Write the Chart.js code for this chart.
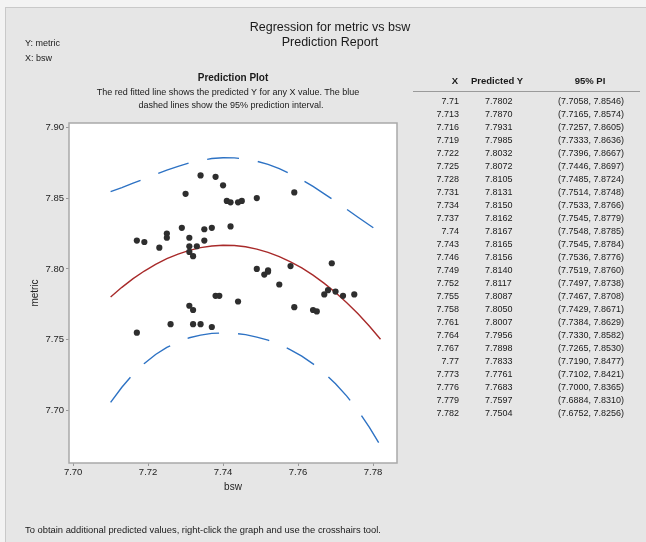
<!DOCTYPE html>
<html>
<head>
<meta charset="utf-8">
<script src="https://cdn.jsdelivr.net/npm/chart.js@4.4.1/dist/chart.umd.min.js"></script>
<style>
  html, body { margin: 0; padding: 0; }
  body { width: 646px; height: 542px; overflow: hidden; background: #f3f3f3; position: relative;
         font-family: "Liberation Sans", Arial, sans-serif; color: #1a1a1a; }
  #frame { position: absolute; left: 5px; top: 7px; width: 641px; height: 535px; background: #e6e6e6;
           border-left: 1px solid #c9c9c9; border-top: 1px solid #c9c9c9; }
  .txt { position: absolute; white-space: nowrap; }
  canvas { position: absolute; left: 0; top: 0; }
  #hline { position: absolute; left: 413px; top: 91px; width: 227px; height: 1px; background: #9a9a9a; }
</style>
</head>
<body>
<div id="frame"></div>
<canvas id="c" width="646" height="542"></canvas>
<div class="txt" style="left:180px;width:300px;text-align:center;top:20px;font-size:12.5px;">Regression for metric vs bsw</div>
<div class="txt" style="left:180px;width:300px;text-align:center;top:35px;font-size:12.5px;">Prediction Report</div>
<div class="txt" style="left:25px;top:38px;font-size:9px;">Y: metric</div>
<div class="txt" style="left:25px;top:53px;font-size:9px;">X: bsw</div>
<div class="txt" style="left:83px;width:300px;text-align:center;top:72px;font-size:10px;font-weight:bold;">Prediction Plot</div>
<div class="txt" style="left:78px;width:300px;text-align:center;top:87px;font-size:9px;">The red fitted line shows the predicted Y for any X value. The blue</div>
<div class="txt" style="left:81px;width:300px;text-align:center;top:100px;font-size:9px;">dashed lines show the 95% prediction interval.</div>
<div class="txt" style="left:25px;top:524px;font-size:9.4px;">To obtain additional predicted values, right-click the graph and use the crosshairs tool.</div>
<div id="hline"></div>
<div id="table"></div>
<script>
// ---- data ----
const tableX = [7.71, 7.713, 7.716, 7.719, 7.722, 7.725, 7.728, 7.731, 7.734, 7.737, 7.74, 7.743,
                7.746, 7.749, 7.752, 7.755, 7.758, 7.761, 7.764, 7.767, 7.77, 7.773, 7.776, 7.779, 7.782];
const predictedY = [7.7802, 7.7870, 7.7931, 7.7985, 7.8032, 7.8072, 7.8105, 7.8131, 7.8150, 7.8162, 7.8167, 7.8165,
                    7.8156, 7.8140, 7.8117, 7.8087, 7.8050, 7.8007, 7.7956, 7.7898, 7.7833, 7.7761, 7.7683, 7.7597, 7.7504];
const piLower = [7.7058, 7.7165, 7.7257, 7.7333, 7.7396, 7.7446, 7.7485, 7.7514, 7.7533, 7.7545, 7.7548, 7.7545,
                 7.7536, 7.7519, 7.7497, 7.7467, 7.7429, 7.7384, 7.7330, 7.7265, 7.7190, 7.7102, 7.7000, 7.6884, 7.6752];
const piUpper = [7.8546, 7.8574, 7.8605, 7.8636, 7.8667, 7.8697, 7.8724, 7.8748, 7.8766, 7.8779, 7.8785, 7.8784,
                 7.8776, 7.8760, 7.8738, 7.8708, 7.8671, 7.8629, 7.8582, 7.8530, 7.8477, 7.8421, 7.8365, 7.8310, 7.8256];

const bswObs = [7.717, 7.719, 7.723, 7.725, 7.725, 7.729, 7.730, 7.731, 7.731, 7.731, 7.732, 7.733, 7.734, 7.735, 7.735,
                7.737, 7.738, 7.740, 7.741, 7.742, 7.742, 7.744, 7.745, 7.749, 7.759,
                7.717, 7.726, 7.731, 7.732, 7.732, 7.734, 7.737, 7.738, 7.739, 7.744, 7.749, 7.751, 7.752, 7.752,
                7.758, 7.769, 7.755, 7.759, 7.764, 7.765, 7.767, 7.768, 7.770, 7.772, 7.775];
const metricObs = [7.820, 7.819, 7.815, 7.825, 7.822, 7.829, 7.853, 7.822, 7.816, 7.812, 7.809, 7.816, 7.866, 7.828, 7.820,
                   7.829, 7.865, 7.859, 7.848, 7.847, 7.830, 7.847, 7.848, 7.850, 7.854,
                   7.755, 7.761, 7.774, 7.771, 7.761, 7.761, 7.759, 7.781, 7.781, 7.777, 7.800, 7.796, 7.799, 7.798,
                   7.802, 7.804, 7.789, 7.773, 7.771, 7.770, 7.782, 7.785, 7.784, 7.781, 7.782];

const xTickVals = [7.70, 7.72, 7.74, 7.76, 7.78];
const yTickVals = [7.70, 7.75, 7.80, 7.85, 7.90];

// ---- table ----
const tbl = document.getElementById('table');
function addText(txt, css) {
  const d = document.createElement('div');
  d.className = 'txt';
  d.textContent = txt;
  d.style.cssText = css;
  tbl.appendChild(d);
}
addText('X', 'left:440px;width:30px;text-align:center;top:75px;font-size:9.5px;font-weight:bold;');
addText('Predicted Y', 'left:467px;width:60px;text-align:center;top:75px;font-size:9.5px;font-weight:bold;');
addText('95% PI', 'left:560px;width:60px;text-align:center;top:75px;font-size:9.5px;font-weight:bold;');
tableX.forEach((x, i) => {
  const top = 96 + i * 13;
  addText(String(x), 'left:409px;width:50px;text-align:right;top:' + top + 'px;font-size:9px;');
  addText(predictedY[i].toFixed(4), 'left:485px;top:' + top + 'px;font-size:9px;');
  addText('(' + piLower[i].toFixed(4) + ', ' + piUpper[i].toFixed(4) + ')',
          'left:524px;width:100px;text-align:right;top:' + top + 'px;font-size:9px;');
});

// ---- chart ----
const plotFrame = {
  id: 'plotFrame',
  beforeDatasetsDraw(chart) {
    const { ctx, chartArea: a } = chart;
    ctx.save();
    ctx.fillStyle = '#ffffff';
    ctx.fillRect(a.left, a.top, a.right - a.left, a.bottom - a.top);
    ctx.strokeStyle = '#a9a9a9';
    ctx.lineWidth = 1.5;
    ctx.strokeRect(a.left, a.top, a.right - a.left, a.bottom - a.top);
    ctx.restore();
  }
};

const tickFont = { family: "'Liberation Sans', Arial, sans-serif", size: 9.5 };

new Chart(document.getElementById('c'), {
  type: 'scatter',
  data: {
    datasets: [
      {
        label: 'Observed',
        data: bswObs.map((x, i) => ({ x: x, y: metricObs[i] })),
        backgroundColor: '#2e2e2e',
        borderColor: '#2e2e2e',
        pointRadius: 3.1,
        pointHoverRadius: 3.1,
        borderWidth: 0
      },
      {
        label: 'Fit',
        data: tableX.map((x, i) => ({ x: x, y: predictedY[i] })),
        showLine: true,
        borderColor: '#a82a2a',
        borderWidth: 1.4,
        pointRadius: 0,
        tension: 0
      },
      {
        label: 'PI upper',
        data: tableX.map((x, i) => ({ x: x, y: piUpper[i] })),
        showLine: true,
        borderColor: '#2d72c4',
        borderWidth: 1.4,
        borderDash: [32, 19],
        pointRadius: 0,
        tension: 0
      },
      {
        label: 'PI lower',
        data: tableX.map((x, i) => ({ x: x, y: piLower[i] })),
        showLine: true,
        borderColor: '#2d72c4',
        borderWidth: 1.4,
        borderDash: [32, 19],
        pointRadius: 0,
        tension: 0
      }
    ]
  },
  options: {
    responsive: false,
    animation: false,
    events: [],
    layout: { padding: { left: 0, top: 123, right: 249, bottom: 39 } },
    plugins: { legend: { display: false }, tooltip: { enabled: false } },
    scales: {
      x: {
        type: 'linear',
        min: 7.6989,
        max: 7.7864,
        afterBuildTicks: s => { s.ticks = xTickVals.map(v => ({ value: v })); },
        afterFit: s => { s.height = 40; },
        ticks: { font: tickFont, color: '#222', padding: 1, maxRotation: 0,
                 callback: v => Number(v).toFixed(2) },
        grid: { drawOnChartArea: false, drawTicks: true, tickLength: 3, color: '#999' },
        border: { display: false },
        title: { display: true, text: 'bsw', font: { family: "'Liberation Sans', Arial, sans-serif", size: 10 },
                 color: '#222', padding: { top: 0, bottom: 10 } }
      },
      y: {
        type: 'linear',
        min: 7.663,
        max: 7.903,
        afterBuildTicks: s => { s.ticks = yTickVals.map(v => ({ value: v })); },
        afterFit: s => { s.width = 69; },
        ticks: { font: tickFont, color: '#222', padding: 2,
                 callback: v => Number(v).toFixed(2) },
        grid: { drawOnChartArea: false, drawTicks: true, tickLength: 3, color: '#999' },
        border: { display: false },
        title: { display: true, text: 'metric', font: { family: "'Liberation Sans', Arial, sans-serif", size: 10 },
                 color: '#222', padding: { top: 29, bottom: 0 } }
      }
    }
  },
  plugins: [plotFrame]
});
</script>
</body>
</html>
